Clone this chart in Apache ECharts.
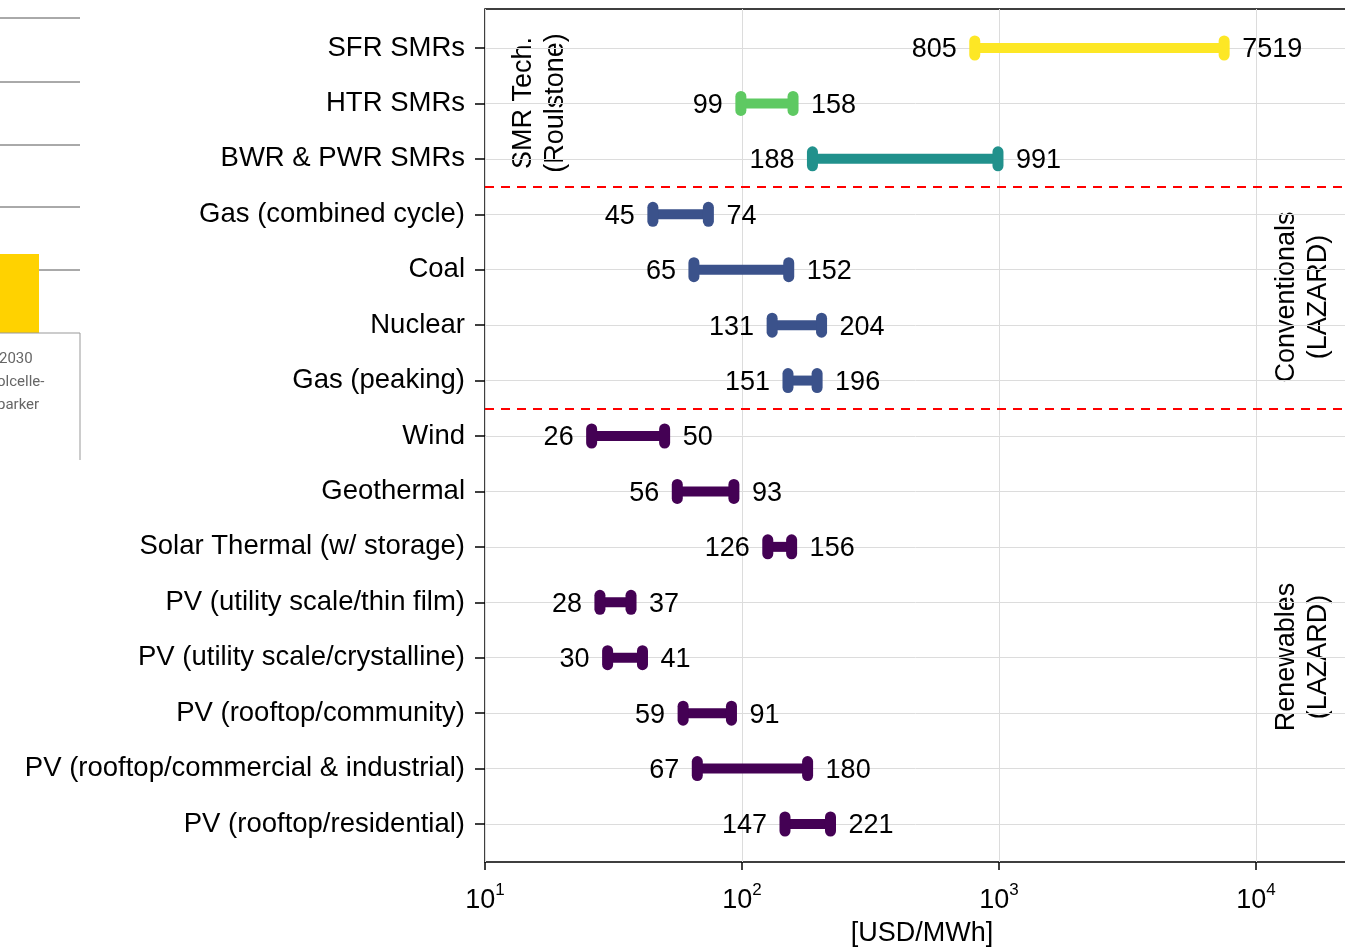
<!DOCTYPE html>
<html>
<head>
<meta charset="utf-8">
<script src="https://cdn.jsdelivr.net/npm/echarts@6/dist/echarts.min.js"></script>
<style>
  html, body { margin: 0; padding: 0; background: #fff; }
  #chart { width: 1345px; height: 950px; }
</style>
</head>
<body>
<div id="chart"></div>
<script>
// rows, top to bottom
var techNames = ['SFR SMRs', 'HTR SMRs', 'BWR & PWR SMRs', 'Gas (combined cycle)', 'Coal', 'Nuclear',
    'Gas (peaking)', 'Wind', 'Geothermal', 'Solar Thermal (w/ storage)', 'PV (utility scale/thin film)',
    'PV (utility scale/crystalline)', 'PV (rooftop/community)', 'PV (rooftop/commercial & industrial)',
    'PV (rooftop/residential)'];
var lowCost = [805, 99, 188, 45, 65, 131, 151, 26, 56, 126, 28, 30, 59, 67, 147];
var highCost = [7519, 158, 991, 74, 152, 204, 196, 50, 93, 156, 37, 41, 91, 180, 221];
var rowGroup = ['sfr', 'htr', 'lwr', 'conv', 'conv', 'conv', 'conv', 'ren', 'ren', 'ren', 'ren', 'ren', 'ren', 'ren', 'ren'];
var groupColor = { sfr: '#fde725', htr: '#5ec962', lwr: '#21918c', conv: '#3b528b', ren: '#440154' };
var xTicks = [10, 100, 1000, 10000];
var separators = [2.5, 6.5]; // between row groups

var FONT = '"Liberation Sans", Arial, sans-serif';

var rows = techNames.map(function (n, i) { return [n, lowCost[i], highCost[i]]; });

var chart = echarts.init(document.getElementById('chart'));

var option = {
    animation: false,
    textStyle: { fontFamily: FONT },
    grid: [
        // frame grid
        { left: 485, top: 9, width: 874, height: 853, outerBoundsMode: 'none', containLabel: false,
          show: true, borderColor: '#000', borderWidth: 1.5, backgroundColor: 'transparent' },
        // data grid, first and last row centres at the edges
        { left: 485, top: 48, width: 874, height: 776, outerBoundsMode: 'none', containLabel: false }
    ],
    xAxis: [{
        gridIndex: 0,
        type: 'log',
        min: 10,
        max: 25170,
        axisLine: { show: false, onZero: false },
        axisTick: { show: true, length: 8, lineStyle: { color: '#000', width: 1.5 } },
        splitLine: { show: true, lineStyle: { color: '#dcdcdc', width: 1 } },
        axisLabel: {
            margin: 20,
            formatter: function (v) {
                var e = Math.log(v) / Math.LN10;
                if (Math.abs(e - Math.round(e)) > 1e-6 || xTicks.indexOf(Math.round(v)) < 0) return '';
                return '{b|10}{s|' + Math.round(e) + '}';
            },
            rich: {
                b: { fontSize: 27, color: '#000', fontFamily: FONT, verticalAlign: 'bottom', lineHeight: 32 },
                s: { fontSize: 17, color: '#000', fontFamily: FONT, verticalAlign: 'top', lineHeight: 32 }
            }
        },
        name: '[USD/MWh]',
        nameLocation: 'middle',
        nameGap: 58,
        nameTextStyle: { fontSize: 27, color: '#000', fontFamily: FONT }
    }, {
        gridIndex: 1,
        type: 'log',
        min: 10,
        max: 25170,
        show: false,
        axisLine: { onZero: false }
    }],
    yAxis: [{
        gridIndex: 0,
        type: 'value',
        inverse: true,
        min: -0.7036,
        max: 14.685,
        show: false,
        axisLine: { onZero: false }
    }, {
        gridIndex: 1,
        type: 'category',
        inverse: true,
        boundaryGap: false,
        data: techNames,
        axisLine: { show: false, onZero: false },
        axisTick: { show: true, length: 10, lineStyle: { color: '#000', width: 1.5 } },
        splitLine: { show: true, lineStyle: { color: '#dcdcdc', width: 1 } },
        axisLabel: { margin: 20, fontSize: 27.5, color: '#000', fontFamily: FONT, padding: [3, 0, 0, 0] }
    }],
    graphic: [
        { type: 'text', x: 540, y: 103, rotation: Math.PI / 2,
          style: { text: 'SMR Tech.\n(Roulstone)', font: '27px ' + FONT, fill: '#000', align: 'center', verticalAlign: 'middle', lineHeight: 32 } },
        { type: 'text', x: 1303, y: 297, rotation: Math.PI / 2,
          style: { text: 'Conventionals\n(LAZARD)', font: '27px ' + FONT, fill: '#000', align: 'center', verticalAlign: 'middle', lineHeight: 32 } },
        { type: 'text', x: 1303, y: 657, rotation: Math.PI / 2,
          style: { text: 'Renewables\n(LAZARD)', font: '27px ' + FONT, fill: '#000', align: 'center', verticalAlign: 'middle', lineHeight: 32 } },
        // cropped piece of another figure on the left edge
        { type: 'group', children: [
            { type: 'line', shape: { x1: 0, y1: 18, x2: 80, y2: 18 }, style: { stroke: '#555', lineWidth: 1 } },
            { type: 'line', shape: { x1: 0, y1: 82, x2: 80, y2: 82 }, style: { stroke: '#555', lineWidth: 1 } },
            { type: 'line', shape: { x1: 0, y1: 145, x2: 80, y2: 145 }, style: { stroke: '#555', lineWidth: 1 } },
            { type: 'line', shape: { x1: 0, y1: 207, x2: 80, y2: 207 }, style: { stroke: '#555', lineWidth: 1 } },
            { type: 'line', shape: { x1: 39, y1: 270, x2: 80, y2: 270 }, style: { stroke: '#555', lineWidth: 1 } },
            { type: 'rect', shape: { x: 0, y: 254, width: 39, height: 79 }, style: { fill: '#ffd200' } },
            { type: 'line', shape: { x1: 0, y1: 333, x2: 80, y2: 333 }, style: { stroke: '#999', lineWidth: 1 } },
            { type: 'line', shape: { x1: 80, y1: 333, x2: 80, y2: 460 }, style: { stroke: '#999', lineWidth: 1 } },
            { type: 'text', x: -1, y: 359, style: { text: '2030', font: '15px Roboto', fill: '#666', verticalAlign: 'middle' } },
            { type: 'text', x: -3, y: 382, style: { text: 'olcelle-', font: '15px Roboto', fill: '#666', verticalAlign: 'middle' } },
            { type: 'text', x: -3, y: 405, style: { text: 'parker', font: '15px Roboto', fill: '#666', verticalAlign: 'middle' } }
        ] }
    ],
    series: [{
        type: 'line',
        xAxisIndex: 0,
        yAxisIndex: 0,
        data: [],
        markLine: {
            silent: true,
            symbol: 'none',
            label: { show: false },
            lineStyle: { color: '#f00', type: [9, 7], width: 2 },
            data: separators.map(function (s) { return { yAxis: s }; })
        }
    }, {
        type: 'custom',
        xAxisIndex: 1,
        yAxisIndex: 1,
        encode: { x: [1, 2], y: 0 },
        data: rows,
        renderItem: function (params, api) {
            var idx = api.value(0);
            var lo = api.value(1), hi = api.value(2);
            var p0 = api.coord([lo, idx]);
            var p1 = api.coord([hi, idx]);
            var c = groupColor[rowGroup[params.dataIndex]];
            var font = '27px ' + FONT;
            return {
                type: 'group',
                children: [
                    { type: 'line', shape: { x1: p0[0], y1: p0[1], x2: p1[0], y2: p1[1] }, style: { stroke: c, lineWidth: 10 } },
                    { type: 'rect', shape: { x: p0[0] - 5.5, y: p0[1] - 12.5, width: 11, height: 25, r: 5.5 }, style: { fill: c } },
                    { type: 'rect', shape: { x: p1[0] - 5.5, y: p1[1] - 12.5, width: 11, height: 25, r: 5.5 }, style: { fill: c } },
                    { type: 'text', style: { text: String(lo), x: p0[0] - 18, y: p0[1] + 2, align: 'right', verticalAlign: 'middle', font: font, fill: '#000' } },
                    { type: 'text', style: { text: String(hi), x: p1[0] + 18, y: p1[1] + 2, align: 'left', verticalAlign: 'middle', font: font, fill: '#000' } }
                ]
            };
        }
    }]
};
chart.setOption(option);
</script>
</body>
</html>
